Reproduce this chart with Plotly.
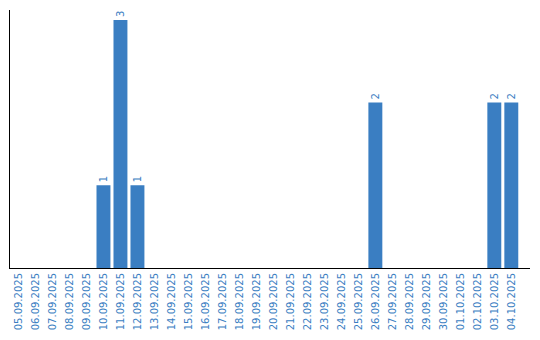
import plotly.graph_objects as go

dates = ["05.09.2025","06.09.2025","07.09.2025","08.09.2025","09.09.2025","10.09.2025",
         "11.09.2025","12.09.2025","13.09.2025","14.09.2025","15.09.2025","16.09.2025",
         "17.09.2025","18.09.2025","19.09.2025","20.09.2025","21.09.2025","22.09.2025",
         "23.09.2025","24.09.2025","25.09.2025","26.09.2025","27.09.2025","28.09.2025",
         "29.09.2025","30.09.2025","01.10.2025","02.10.2025","03.10.2025","04.10.2025"]
counts = [0,0,0,0,0,1,3,1,0,0,0,0,0,0,0,0,0,0,0,0,0,2,0,0,0,0,0,0,2,2]

blue = "#3a7ec2"
labels = [str(v) if v > 0 else "" for v in counts]

fig = go.Figure(go.Bar(
    x=dates, y=counts, marker_color=blue, marker_line_width=0,
    text=labels, textposition="outside", textangle=-90,
    textfont=dict(color=blue, size=10, family="DejaVu Sans"),
    cliponaxis=False,
))
fig.update_layout(
    width=540, height=340,
    margin=dict(l=10, r=10, t=10, b=70),
    plot_bgcolor="white", paper_bgcolor="white",
    bargap=0.18, showlegend=False,
    font=dict(family="DejaVu Sans", size=10, color=blue),
)
fig.update_xaxes(type="category", range=[-0.5, 30.1], tickangle=-90,
                 showline=True, linecolor="black", linewidth=1,
                 showgrid=False, ticks="", tickfont=dict(color=blue, size=10))
fig.update_yaxes(range=[0, 3.12], showline=True, linecolor="black", linewidth=1,
                 showgrid=False, showticklabels=False, ticks="", zeroline=False)
fig.write_html("out.html")
